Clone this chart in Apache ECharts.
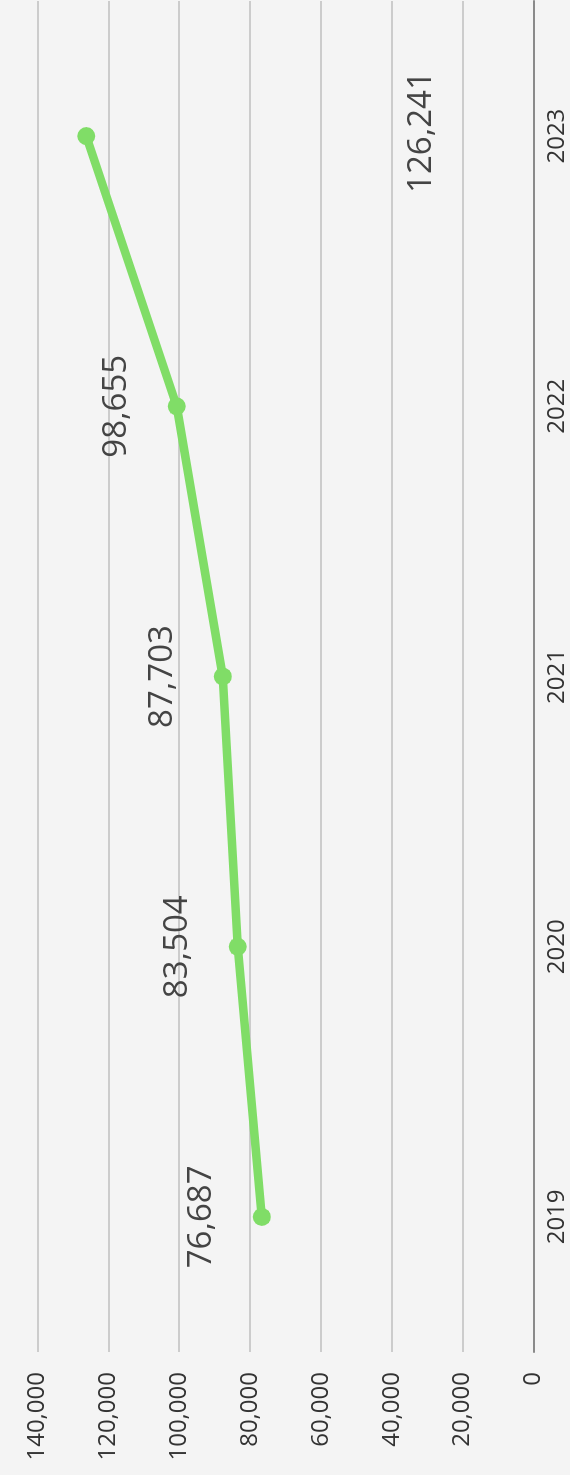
<!DOCTYPE html>
<html>
<head>
<meta charset="utf-8">
<script src="https://cdn.jsdelivr.net/npm/echarts@6/dist/echarts.min.js"></script>
<style>
  html, body { margin: 0; padding: 0; background: #f4f4f4; }
  #wrap { position: relative; width: 570px; height: 1475px; overflow: hidden; background: #f4f4f4; }
  #chart { position: absolute; left: 0; top: 0; width: 1475px; height: 570px;
           transform-origin: 0 0; transform: translateY(1475px) rotate(-90deg); }
</style>
</head>
<body>
<div id="wrap"><div id="chart"></div></div>
<script>
// Data
const years = ['2019', '2020', '2021', '2022', '2023'];
// plotted positions of the points as drawn
const values = [76687, 83504, 87703, 100700, 126241];
// printed value labels
const valueLabels = ['76,687', '83,504', '87,703', '98,655', '126,241'];
const yTicks = { min: 0, max: 140000, interval: 20000 };

const chart = echarts.init(document.getElementById('chart'));
const FONT = "'Open Sans', 'DejaVu Sans', sans-serif";

const seriesData = values.map((v, i) => {
  const item = { value: v };
  if (i === values.length - 1) {
    item.label = { offset: [4, 396] };
  }
  return item;
});

chart.setOption({
  backgroundColor: '#f4f4f4',
  animation: false,
  grid: { left: 123, right: 1, top: 37.5, bottom: 36.5, containLabel: false },
  xAxis: {
    type: 'category',
    data: years,
    boundaryGap: true,
    axisLine: { show: true, lineStyle: { color: '#8a8a8a', width: 2 } },
    axisTick: { show: false },
    axisLabel: { color: '#333', fontSize: 24, fontFamily: FONT, margin: 12 },
    splitLine: { show: false }
  },
  yAxis: {
    type: 'value',
    min: yTicks.min,
    max: yTicks.max,
    interval: yTicks.interval,
    axisLine: { show: false },
    axisTick: { show: false },
    axisLabel: {
      color: '#333', fontSize: 24, fontFamily: FONT, margin: 20,
      formatter: v => v.toLocaleString('en-US')
    },
    splitLine: { show: true, lineStyle: { color: '#cccccc', width: 2 } }
  },
  series: [{
    type: 'line',
    data: seriesData,
    symbol: 'circle',
    symbolSize: 18,
    lineStyle: { color: '#80dd67', width: 8.5 },
    itemStyle: { color: '#80dd67' },
    label: {
      show: true,
      position: 'top',
      distance: 35,
      color: '#444',
      fontSize: 33,
      fontFamily: FONT,
      formatter: p => valueLabels[p.dataIndex]
    }
  }]
});
</script>
</body>
</html>
